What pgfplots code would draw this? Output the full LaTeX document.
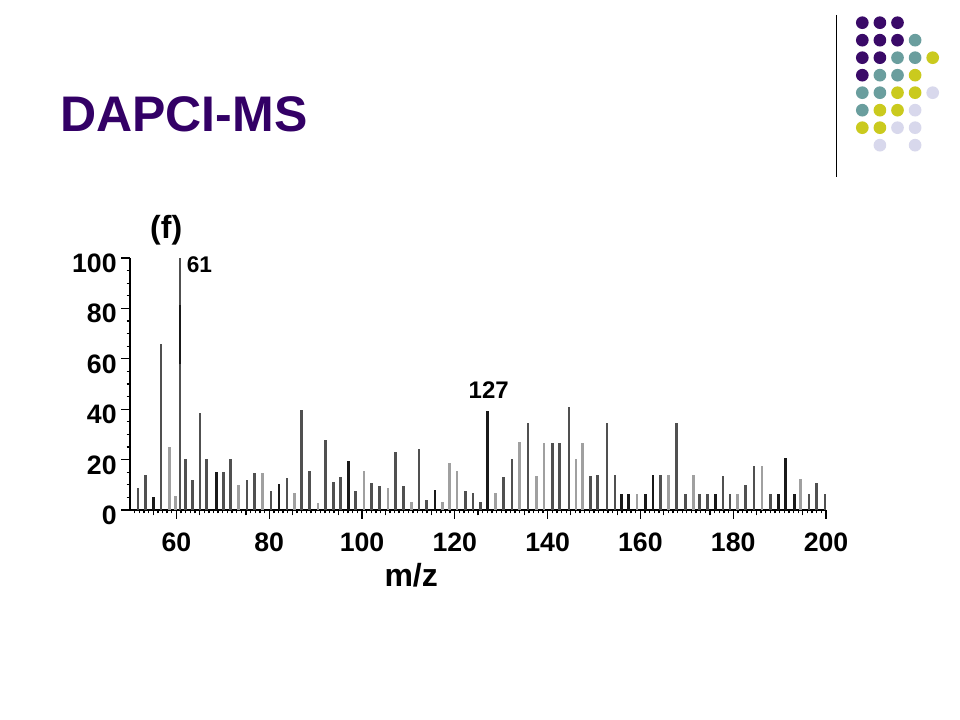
\documentclass[border=0pt]{standalone}
\usepackage{pgfplots}
\pgfplotsset{compat=1.18}
\usepackage{fontspec}
\setmainfont{Liberation Sans}
\definecolor{titlepurple}{RGB}{51,0,102}
\definecolor{dotpurple}{RGB}{58,10,104}
\definecolor{dotteal}{RGB}{106,158,158}
\definecolor{dotyellow}{RGB}{202,202,30}
\definecolor{dotlav}{RGB}{216,216,236}
\definecolor{stickblack}{RGB}{25,25,25}
\definecolor{stickdark}{RGB}{80,80,80}
\definecolor{sticklight}{RGB}{160,160,160}
\begin{document}
\begin{tikzpicture}
\path[use as bounding box, fill=white] (0,0) rectangle (720pt,540pt);
% title
\node[anchor=base west, inner sep=0pt, text=titlepurple, font=\fontsize{37.5}{40}\selectfont\bfseries] at (45pt,441pt) {DAPCI-MS};
% slide decoration
\draw[line width=1pt] (627.5pt,528.75pt) -- (627.5pt,407.25pt);
\foreach \c/\cx/\cy in {
 dotpurple/1/1, dotpurple/2/1, dotpurple/3/1,
 dotpurple/1/2, dotpurple/2/2, dotpurple/3/2, dotteal/4/2,
 dotpurple/1/3, dotpurple/2/3, dotteal/3/3, dotteal/4/3, dotyellow/5/3,
 dotpurple/1/4, dotteal/2/4, dotteal/3/4, dotyellow/4/4,
 dotteal/1/5, dotteal/2/5, dotyellow/3/5, dotyellow/4/5, dotlav/5/5,
 dotteal/1/6, dotyellow/2/6, dotyellow/3/6, dotlav/4/6,
 dotyellow/1/7, dotyellow/2/7, dotlav/3/7, dotlav/4/7,
 dotlav/2/8, dotlav/4/8}
 {\fill[\c] ({0.75*(862.3+17.6*(\cx-1))*1pt},{0.75*(720-22.7-17.5*(\cy-1))*1pt}) circle (4.75pt);}
\begin{axis}[
  at={(97.5pt,157.5pt)}, anchor=south west,
  scale only axis, width=522pt, height=189pt,
  xmin=50, xmax=200, ymin=0, ymax=100,
  axis lines*=left,
  axis line style={-, line width=1.3pt, black},
  xtick={60,80,...,200},
  minor xtick={51,52,...,199},
  extra x ticks={55,65,...,195},
  extra x tick labels={},
  extra x tick style={major tick length=4pt, grid=none},
  ytick={0,20,...,100},
  minor y tick num=3,
  tick align=outside,
  major tick length=6.5pt,
  minor tick length=2.5pt,
  every tick/.style={black, line width=1pt},
  /pgf/number format/assume math mode=true,
  ticklabel style={font=\fontsize{20}{20}\selectfont\bfseries},
  yticklabel style={yshift=-4pt},
  xticklabel style={yshift=-7pt},
  xlabel={m/z},
  xlabel style={font=\fontsize{24}{24}\selectfont\bfseries, at={(axis description cs:0.404,-0.258)}, anchor=center},
  clip=false,
]
\addplot[ycomb, no marks, draw=stickdark, line width=2pt] coordinates {
(51.7,8.7) (53.3,13.9) (56.7,66.0) (60.8,100) (61.9,20.2) (63.4,12.1) (65.1,38.3) (66.5,20.2)
(70.1,15.2) (71.6,20.2) (75.2,11.9) (76.8,14.5) (80.4,7.7) (83.8,12.5) (87.0,39.6) (88.7,15.6)
(92.1,27.7) (93.9,11.0) (95.4,12.9) (98.6,7.7) (102.0,10.6) (103.8,9.7) (107.2,23.0) (109.0,9.7)
(112.3,24.1) (113.9,4.0) (122.3,7.6) (123.9,6.6) (125.5,3.0) (130.5,13.2) (132.3,20.2) (135.8,34.5)
(141.0,26.6) (142.5,26.6) (144.6,40.7) (149.2,13.6) (150.7,13.8) (152.8,34.7) (154.5,13.9)
(164.3,13.9) (167.8,34.7) (169.7,6.2) (172.8,6.2) (174.5,6.2) (177.8,13.5) (179.3,6.2) (182.7,9.9)
(184.5,17.5) (188.1,6.2) (196.3,6.2) (198.0,10.8) (199.8,6.2)
};
\addplot[ycomb, no marks, draw=sticklight, line width=2pt] coordinates {
(58.5,25.1) (59.8,5.7) (73.4,9.9) (78.6,14.5) (85.5,6.7) (90.5,2.8) (100.4,15.3) (105.6,8.7)
(110.6,3.0) (117.4,3.0) (118.9,18.8) (120.5,15.6) (128.8,6.7) (134.0,27.1) (137.6,13.5)
(139.2,26.6) (146.1,20.2) (147.5,26.6) (159.3,6.2) (166.0,13.9) (171.4,13.9) (180.9,6.2)
(186.2,17.5) (194.5,12.3)
};
\addplot[ycomb, no marks, draw=stickblack, line width=2pt] coordinates {
(55.0,5.3) (68.6,15.2) (82.1,10.3) (97.1,19.5) (115.7,7.9) (127.0,39.4) (155.9,6.2) (157.5,6.2)
(161.1,6.2) (162.7,13.9) (176.2,6.2) (189.7,6.2) (191.2,20.5) (193.2,6.2)
};
\addplot[no marks, draw=stickblack, line width=2pt] coordinates {(60.8,57.8) (60.8,81.5)};
\node[font=\fontsize{17}{17}\selectfont\bfseries] at (axis cs:64.96,97.2) {61};
\node[font=\fontsize{18}{18}\selectfont\bfseries] at (axis cs:127.3,47.6) {127};
\node[font=\fontsize{24}{24}\selectfont\bfseries] at (axis description cs:0.052,1.111) {(f)};
\end{axis}
\end{tikzpicture}
\end{document}
